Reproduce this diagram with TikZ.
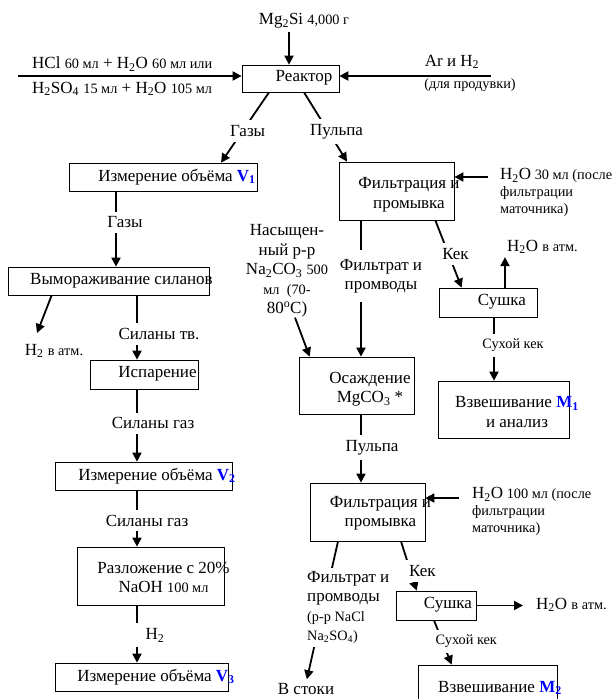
\documentclass[tikz,border=0pt]{standalone}
\usepackage{fontspec}
\setmainfont{Liberation Serif}
\usetikzlibrary{arrows.meta}
\newcommand{\smf}{\fontsize{14.3}{17}\selectfont}
\newcommand{\nmf}{\fontsize{17}{19.5}\selectfont}
\newcommand{\bv}[1]{\textcolor{blue}{\textbf{#1}}}
\tikzset{
  box/.style={draw=black, line width=0.7pt, inner sep=0pt},
  txt/.style={inner sep=0pt, align=center},
  conn/.style={line width=1.8pt, -{Triangle[length=9pt,width=9pt]}},
  lbl/.style={fill=white, inner xsep=3pt, inner ysep=5pt, align=center},
}
\begin{document}
\begin{tikzpicture}[x=1pt, y=-1pt, font=\nmf]
\path[use as bounding box, clip] (0,0) rectangle (614,699);
\fill[white] (0,0) rectangle (614,699);

% ---------- top ----------
\node[txt] (mg) at (304,21) {Mg\textsubscript{2}Si {\smf 4,000 г}};
\node[box, minimum width=97pt, minimum height=27pt] (reactor) at (290.5,78.5) {};
\node[txt] (reactor-t) at (304,78) {Реактор};
\draw[conn, shorten <=3pt] ([xshift=-15pt]mg.south) -- ([xshift=-15pt]mg.south |- reactor.north);

\node[txt, anchor=west] (hcl) at (32,64) {HCl {\smf 60 мл} + H\textsubscript{2}O {\smf 60 мл или}};
\node[txt, anchor=west] (h2so4) at (32,89) {H\textsubscript{2}SO\textsubscript{4} {\smf 15 мл} + H\textsubscript{2}O {\smf 105 мл}};
\coordinate (acid) at (18,76);
\draw[conn] (acid) -- (acid -| reactor.west);

\node[txt] (ar) at (452,62) {Ar и H\textsubscript{2}};
\node[txt, font=\smf] (purge) at (470,85) {(для продувки)};
\coordinate (argas) at (491,76);
\draw[conn] (argas) -- (argas -| reactor.east);

% ---------- left column ----------
\node[box, minimum width=188pt, minimum height=28pt] (v1) at (163,177) {};
\node[txt] (v1-t) at (177,177) {Измерение объёма \bv{V\textsubscript{1}}};
\draw[conn] ([xshift=-21.5pt]reactor.south) -- node[lbl, pos=0.55, xshift=5pt] {Газы} ([xshift=58pt]v1.north);

\node[box, minimum width=201pt, minimum height=28pt] (vym) at (108.5,281) {};
\node[txt] (vym-t) at (121.5,281) {Вымораживание силанов};
\draw[conn] ([xshift=-47pt]v1.south) -- node[lbl, pos=0.41, xshift=9pt] {Газы} ([xshift=-47pt]v1.south |- vym.north);

\node[txt] (h2atm) at (54,351) {H\textsubscript{2} {\smf в атм.}};
\coordinate (h2tip) at (37,333);
\draw[conn] ([xshift=44pt]vym.south west) -- (h2tip);

\node[box, minimum width=108pt, minimum height=29pt] (isp) at (144,374.5) {};
\node[txt] (isp-t) at (157.5,374) {Испарение};
\draw[conn] ([xshift=28.5pt]vym.south) -- node[lbl, pos=0.6, xshift=22pt] {Силаны тв.} ([xshift=28.5pt]vym.south |- isp.north);

\node[box, minimum width=177pt, minimum height=28pt] (v2) at (143.5,476) {};
\node[txt] (v2-t) at (157,476) {Измерение объёма \bv{V\textsubscript{2}}};
\draw[conn] ([xshift=-7pt]isp.south) -- node[lbl, pos=0.47, xshift=16pt] {Силаны газ} ([xshift=-7pt]isp.south |- v2.north);

\node[box, minimum width=147pt, minimum height=58pt] (razl) at (150.5,576) {};
\node[txt] (razl-t) at (163.5,577.5) {Разложение с 20\%\\NaOH {\smf 100 мл}};
\draw[conn] ([xshift=-6.5pt]v2.south) -- node[lbl, pos=0.54, xshift=10pt] {Силаны газ} ([xshift=-6.5pt]v2.south |- razl.north);

\node[box, minimum width=173pt, minimum height=28pt] (v3) at (141.5,677) {};
\node[txt] (v3-t) at (156,677) {Измерение объёма \bv{V\textsubscript{3}}};
\draw[conn] ([xshift=-13.5pt]razl.south) -- node[lbl, pos=0.52, xshift=18pt, minimum width=44pt] {H\textsubscript{2}} ([xshift=-13.5pt]razl.south |- v3.north);

% ---------- middle column ----------
\node[box, minimum width=115pt, minimum height=58pt] (filt1) at (396.5,191) {};
\node[txt] (filt1-t) at (409,194.5) {Фильтрация и\\промывка};
\draw[conn] ([xshift=13.5pt]reactor.south) -- node[lbl, pos=0.57, xshift=8pt] {Пульпа} ([xshift=-49.5pt]filt1.north);

\node[txt, anchor=north west, align=left, font=\smf] (w30) at (500,168) {{\nmf H\textsubscript{2}O} 30 мл (после\\фильтрации\\маточника)};
\coordinate (w30s) at (488,177);
\draw[conn] (w30s) -- (w30s -| filt1.east);

\node[txt] (na) at (287,271) {Насыщен-\\ный р-р\\Na\textsubscript{2}CO\textsubscript{3} {\smf 500}\\{\smf мл\ \ (70-}\\80\textsuperscript{o}C)};

\node[box, minimum width=115pt, minimum height=57pt] (osad) at (356.5,385.5) {};
\node[txt] (osad-t) at (370,389) {Осаждение\\MgCO\textsubscript{3} *};
\draw[conn] ([xshift=-35.5pt]filt1.south) -- node[lbl, pos=0.41, xshift=20pt, inner ysep=9pt] {Фильтрат и\\промводы} ([xshift=-35.5pt]filt1.south |- osad.north);
\draw[conn] ([xshift=8pt]na.south) -- ([xshift=11pt]osad.north west);

\node[box, minimum width=115pt, minimum height=58pt] (filt2) at (367.5,512) {};
\node[txt] (filt2-t) at (380.5,513) {Фильтрация и\\промывка};
\draw[conn] ([xshift=4.5pt]osad.south) -- node[lbl, pos=0.49, xshift=11pt] {Пульпа} ([xshift=4.5pt]osad.south |- filt2.north);

\node[txt, anchor=north west, align=left, font=\smf] (w100) at (472,487) {{\nmf H\textsubscript{2}O} 100 мл (после\\фильтрации\\маточника)};
\coordinate (w100s) at (459,498);
\draw[conn] (w100s) -- (w100s -| filt2.east);

\node[txt] (stoki) at (306,689) {В стоки};
\draw[conn, shorten >=4pt] ([xshift=-29.5pt]filt2.south) -- (stoki.north);
\node[lbl, anchor=north west, align=left, inner ysep=3pt] (filtr2) at (304,568) {Фильтрат и\\промводы\\{\smf (р-р NaCl}\\{\smf Na\textsubscript{2}SO\textsubscript{4})}};

% ---------- right column ----------
\node[box, minimum width=98pt, minimum height=29pt] (sush1) at (488,302.5) {};
\node[txt] (sush1-t) at (502,302) {Сушка};
\draw[conn] ([xshift=-19pt]filt1.south east) -- node[lbl, pos=0.5, xshift=7pt] {Кек} ([xshift=23pt]sush1.north west);

\node[txt, anchor=west] (atm1) at (507,247) {H\textsubscript{2}O {\smf в атм.}};
\draw[conn, shorten >=3pt] ([xshift=17pt]sush1.north) -- ([xshift=17pt]sush1.north |- atm1.south);

\node[box, minimum width=131pt, minimum height=57pt] (m1) at (503.5,409.5) {};
\node[txt] (m1-t) at (517,412) {Взвешивание \bv{M\textsubscript{1}}\\и анализ};
\draw[conn] ([xshift=6pt]sush1.south) -- node[lbl, font=\smf, pos=0.44, xshift=19pt] {Сухой кек} ([xshift=6pt]sush1.south |- m1.north);

\node[box, minimum width=80pt, minimum height=29pt] (sush2) at (436,605.5) {};
\node[txt] (sush2-t) at (448,605) {Сушка};
\draw[conn] ([xshift=33.5pt]filt2.south) -- node[lbl, pos=0.6, xshift=12pt] {Кек} ([xshift=21pt]sush2.north west);

\node[txt, anchor=west] (atm2) at (536,605) {H\textsubscript{2}O {\smf в атм.}};
\draw[conn, shorten >=13pt] (sush2.east) -- (sush2.east -| atm2.west);

\node[box, minimum width=139pt, minimum height=60pt] (m2) at (487.5,695) {};
\node[txt] (m2-t) at (500,688) {Взвешивание \bv{M\textsubscript{2}}};
\draw[conn] ([xshift=-2pt]sush2.south) -- node[lbl, font=\smf, pos=0.47, xshift=24pt] {Сухой кек} ([xshift=34pt]m2.north west);
\end{tikzpicture}
\end{document}
